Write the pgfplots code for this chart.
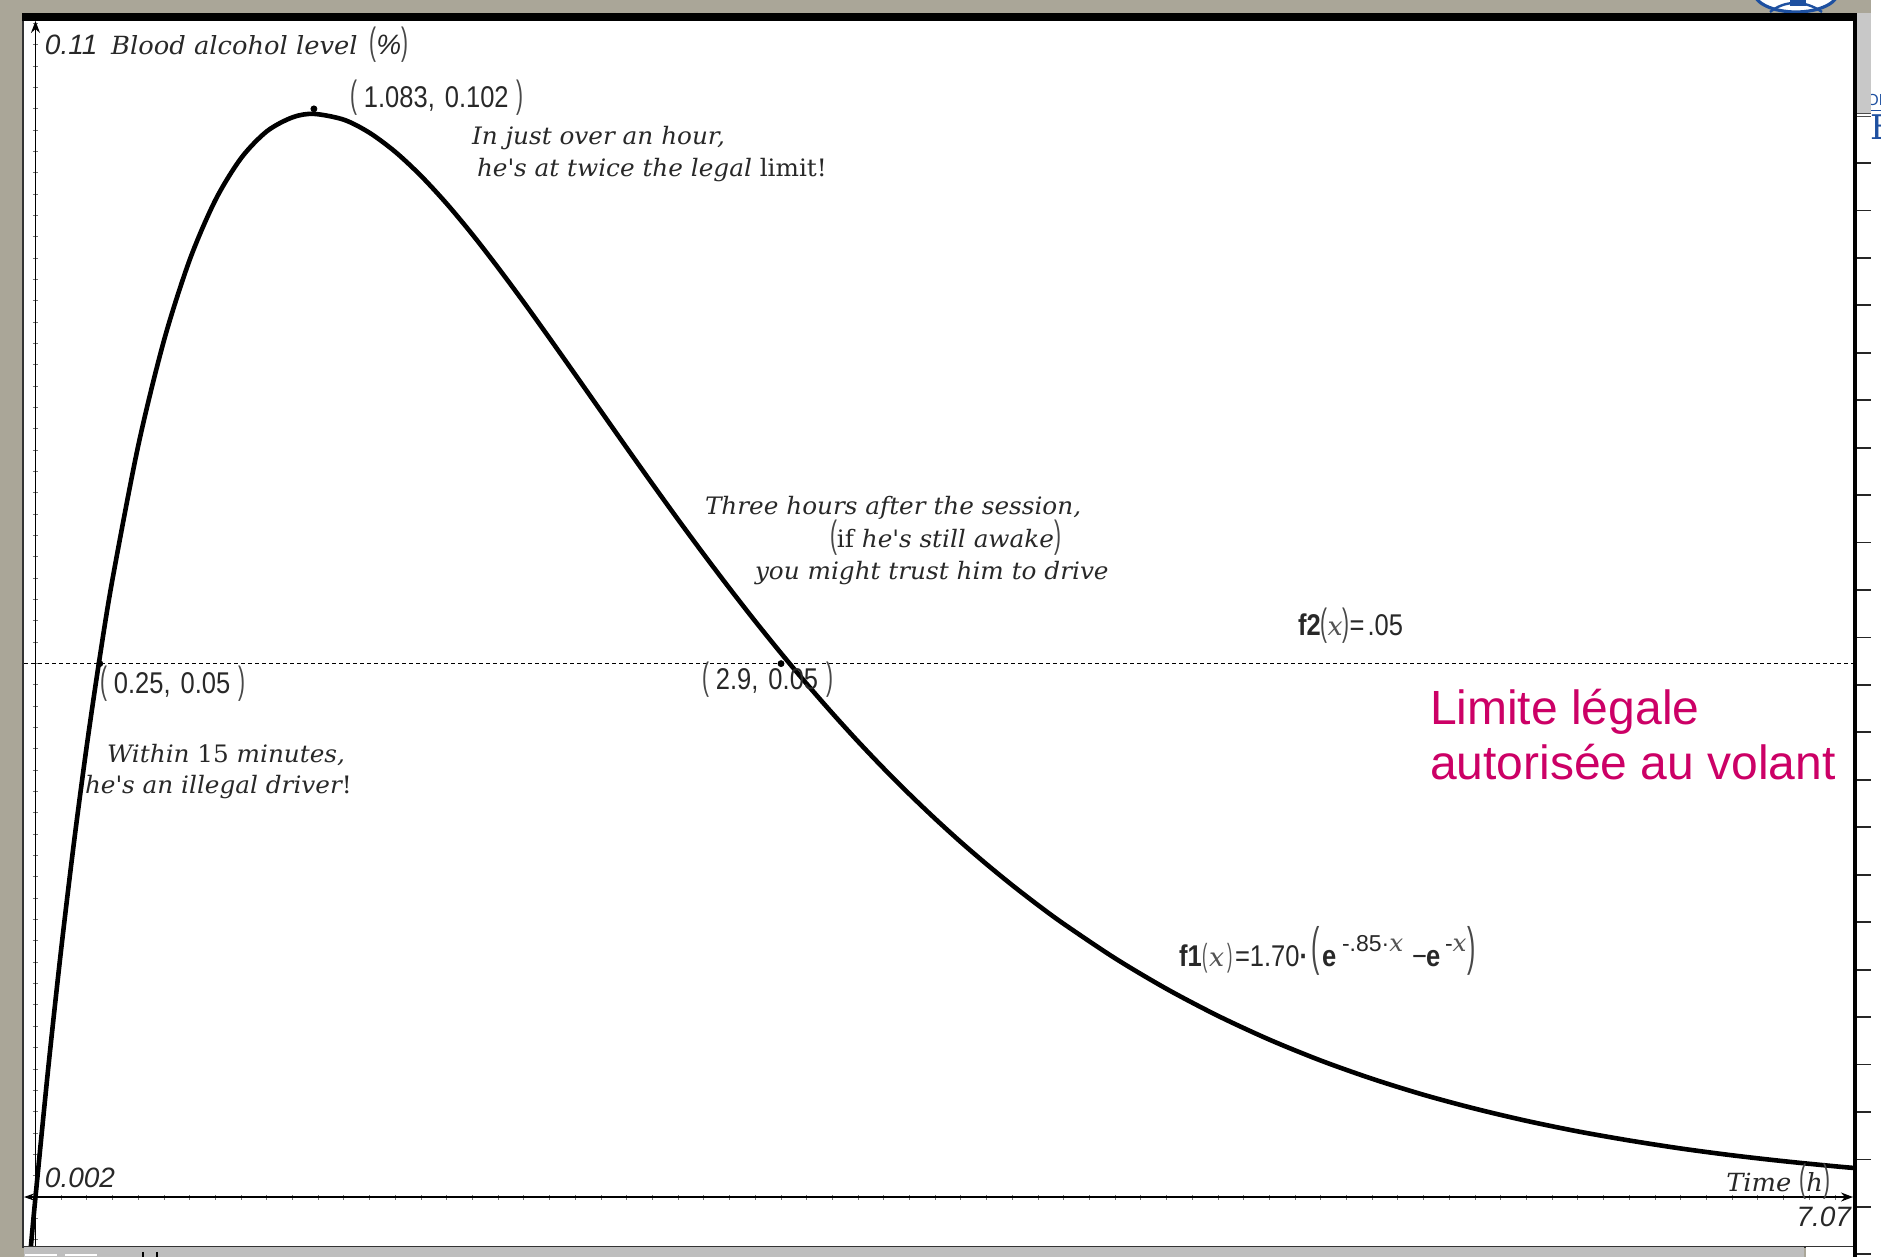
\documentclass[border=0pt]{standalone}
\usepackage{pgfplots}
\pgfplotsset{compat=1.18}
\usepackage{fontspec}
\usetikzlibrary{arrows.meta}
\setmainfont{DejaVu Serif}
\newfontfamily\tisans{Liberation Sans}
\newfontfamily\tinum[FakeStretch=0.85]{Liberation Sans}
\newfontfamily\tiserif[FakeStretch=1.03]{DejaVu Serif}
\newfontfamily\arialfont{Liberation Sans}

\definecolor{frame}{RGB}{170,166,152}
\definecolor{uigray}{RGB}{200,200,200}
\definecolor{ink}{RGB}{40,40,40}
\definecolor{limite}{RGB}{204,0,102}
\definecolor{logoblue}{RGB}{30,80,160}

% text styles of the graph window
\newcommand\ann{\tiserif\itshape\fontsize{12}{14}\selectfont\color{ink}}
\newcommand\ttl{\tiserif\itshape\fontsize{12.5}{14}\selectfont\color{ink}}
\newcommand\upr{\upshape}
\newcommand\coord{\tinum\fontsize{15}{16}\selectfont\color{ink}}
\newcommand\numf{\tinum\fontsize{15}{16}\selectfont\color{ink}}
\newcommand\supf{\tisans\fontsize{11.5}{12}\selectfont\color{ink}}
\newcommand\axlbl{\tisans\itshape\fontsize{14}{16}\selectfont\color{ink}}
\newcommand\tp[1]{{\tisans\upshape\fontsize{19}{19}\selectfont\color{ink!85}\scalebox{0.55}[1]{#1}}}
\newcommand\tps[1]{{\tisans\upshape\fontsize{16}{16}\selectfont\color{ink!80}\scalebox{0.5}[1]{#1}}}
\newcommand\tpl[1]{{\tisans\upshape\fontsize{25}{25}\selectfont\color{ink!85}\raisebox{1pt}{\scalebox{0.5}[1.05]{#1}}}}
\newcommand\xit{{\tiserif\itshape\fontsize{13}{14}\selectfont\color{ink!80}x}}
\newcommand\xsup{{\tiserif\itshape\fontsize{12}{12}\selectfont\color{ink!80}x}}
% a point label ( a, b )
\newcommand\pt[2]{\tp{(}\hspace{3.5pt}{\coord #1,\hspace{5pt}#2}\hspace{4pt}\tp{)}}

\pgfplotstableread{
x y
-0.03 -0.00787
-0.02 -0.00520
0 0
0.05 0.01217
0.1 0.02325
0.15 0.03330
0.2 0.04239
0.25 0.05059
0.3 0.05797
0.4 0.07047
0.5 0.08031
0.6 0.08786
0.7 0.09346
0.8 0.09739
0.9 0.09990
1.0 0.10121
1.083 0.10153
1.2 0.10098
1.3 0.09975
1.4 0.09796
1.5 0.09571
1.6 0.09310
1.7 0.09021
1.8 0.08710
1.9 0.08385
2.0 0.08049
2.1 0.07708
2.2 0.07365
2.3 0.07022
2.4 0.06683
2.5 0.06349
2.6 0.06023
2.7 0.05705
2.8 0.05396
2.9 0.05098
3.0 0.04810
3.1 0.04534
3.2 0.04269
3.3 0.04016
3.4 0.03775
3.5 0.03545
3.6 0.03326
3.7 0.03119
3.8 0.02922
3.9 0.02736
4.0 0.02560
4.2 0.02237
4.4 0.01951
4.6 0.01698
4.8 0.01475
5.0 0.01279
5.2 0.01108
5.4 0.00958
5.6 0.00828
5.8 0.00714
6.0 0.00615
6.2 0.00530
6.4 0.00455
6.6 0.00391
6.8 0.00336
7.0 0.00288
7.1 0.00267
}\bacdata

\begin{document}
\begin{tikzpicture}
% window frame, drawn in screen pixels (origin top left)
\begin{scope}[yshift=628.5pt, x=0.5pt, y=-0.5pt]
  \path[use as bounding box] (0,0) rectangle (1881,1257);
  \fill[frame] (0,0) rectangle (1871,1257);
  \fill[white] (1871,0) rectangle (1881,1257);
  % logo peeking above the window
  \begin{scope}
    \clip (1740,0) rectangle (1850,13);
    \draw[logoblue, line width=1.6pt, fill=white] (1796,-8) ellipse [x radius=42, y radius=20];
    \draw[logoblue, line width=1.2pt] (1770,12) .. controls (1785,0) and (1805,0) .. (1822,12);
    \fill[logoblue] (1790,-4) rectangle (1806,6);
  \end{scope}
  \node[anchor=base west, inner sep=0] at (1866,106) {\color{logoblue}\tisans\fontsize{8}{8}\selectfont OF};
  \draw[logoblue, line width=0.4pt] (1862,110) -- (1881,110);
  \node[anchor=base west, inner sep=0] at (1870,140) {\color{logoblue}\fontsize{17}{17}\selectfont E};
  % side strip with its ruler
  \fill[uigray] (1857,13) rectangle (1871,113);
  \fill[white] (1857,113) rectangle (1871,1257);
  \draw[black!70, line width=0.8pt] (1857,113.5) -- (1871,113.5);
  \draw[black!70, line width=0.5pt] (1857,116.5) -- (1871,116.5);
  \foreach \k in {0,...,23} {
    \draw[black!85, line width=0.9pt] (1857,163+47.45*\k) -- (1871,163+47.45*\k);
  }
  % graph area
  \fill[black!80] (22,13) rectangle (1853,1248);
  \fill[white] (24,21) rectangle (1853,1246);
  \fill[black] (22,13) rectangle (1857,21);
  \fill[black] (1853,13) rectangle (1857,1257);
  % status bar
  \fill[uigray!95!black] (24,1247.5) rectangle (1804,1257);
  \fill[white] (1806,1247.5) rectangle (1853,1257);
  \draw[white, line width=0.7pt] (25,1255) -- (57,1255) (65,1255) -- (97,1255);
  \draw[black, line width=0.6pt] (143,1252) -- (143,1257) (157,1252) -- (157,1257);
\end{scope}

\begin{axis}[
  at={(12pt,5.5pt)}, anchor=south west, scale only axis,
  width=914.5pt, height=612.5pt,
  xmin=-0.0447, xmax=7.07, ymin=-0.00459, ymax=0.11024,
  axis lines=middle,
  axis line style={black, line width=0.6pt},
  x axis line style={{Stealth[length=5pt,width=3.5pt]}-{Stealth[length=6pt,width=4.5pt]}},
  y axis line style={-{Stealth[length=6pt,width=4.5pt]}},
  xtick distance=0.1, ytick distance=0.002,
  xticklabels={}, yticklabels={},
  tick align=center, major tick length=2.5pt,
  tick style={black!55, line width=0.5pt},
  clip=true,
]
  % legal limit f2(x) = .05
  \addplot[black, line width=0.5pt, dash pattern=on 2.2pt off 1.3pt]
    coordinates {(-0.0447,0.05) (7.07,0.05)};
  % blood alcohol curve f1
  \addplot[black, line width=2.3pt, smooth] table[x=x, y=y] {\bacdata};
  % points of interest
  \addplot[only marks, mark=*, mark size=1.5pt, black]
    coordinates {(0.25,0.05) (1.083,0.102) (2.9,0.05)};
\end{axis}

% labels and notes, in screen pixels
\begin{scope}[yshift=628.5pt, x=0.5pt, y=-0.5pt, every node/.style={anchor=base west, inner sep=0pt, outer sep=0pt}]
  \node at (45,55) {\axlbl 0.11\hspace{3pt} {\ttl Blood alcohol level}\hspace{2pt} \tp{(}{\color{ink}\fontsize{14}{14}\selectfont\%}\tp{)}};
  \node at (350,108) {\pt{1.083}{0.102}};
  \node at (472,145) {\ann In just over an hour,};
  \node at (477,177) {\ann he\textquotesingle s at twice the legal {\upr limit!}};
  \node at (705,515) {\ann Three hours after the session,};
  \node at (830,548) {\ann\tp{(}{\upr if} he\textquotesingle s still awake\tp{)}};
  \node at (755,580) {\ann you might trust him to drive};
  \node at (1298,636) {{\numf\bfseries f2}\tp{(}\xit\tp{)}{\numf =\hspace{1.5pt}.05}};
  \node at (100,694) {\pt{0.25}{0.05}};
  \node at (702,690) {\pt{2.9}{0.05}};
  \node at (107,763) {\ann Within {\upr 15} minutes,};
  \node at (85,794) {\ann he\textquotesingle s an illegal driver{\upr !}};
  \node at (1430,725) {\arialfont\fontsize{24}{28}\selectfont\color{limite}Limite légale};
  \node at (1430,780) {\arialfont\fontsize{24}{28}\selectfont\color{limite}autorisée au volant};
  % f1(x)=1.70*(e^(-.85x)-e^(-x)), piece by piece
  \node at (1179,967) {\numf\bfseries f1};
  \node at (1202,967) {\tps{(}};
  \node at (1209,967) {\xit};
  \node at (1227,967) {\tps{)}};
  \node at (1235,967) {\numf =1.70{\bfseries ·}};
  \node at (1311,967) {\tpl{(}};
  \node at (1322,967) {\numf\bfseries e};
  \node at (1342,952) {\supf -.85·\xsup};
  \node at (1412,967) {\numf −};
  \node at (1426,967) {\numf\bfseries e};
  \node at (1445,952) {\supf -\xsup};
  \node at (1467,967) {\tpl{)}};
  \node at (45,1188) {\axlbl 0.002};
  \node[anchor=base east] at (1830,1192) {\ttl Time \tp{(}h\tp{)}};
  \node[anchor=base east] at (1851,1227) {\axlbl 7.07};
\end{scope}
\end{tikzpicture}
\end{document}
